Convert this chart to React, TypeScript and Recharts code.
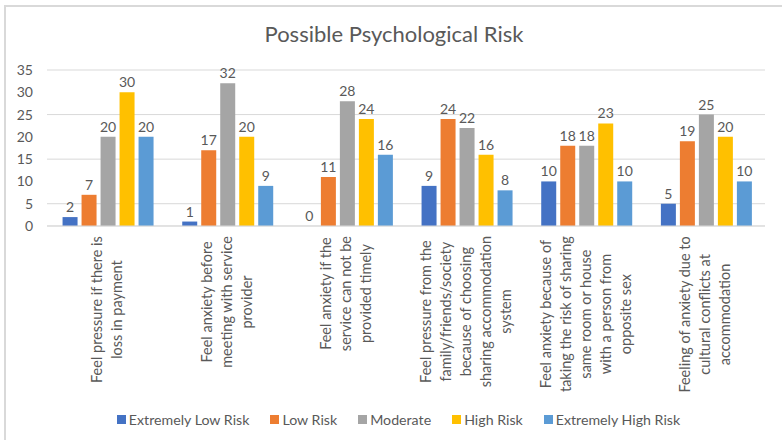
import React from "react";
import { Bar, BarChart, CartesianGrid, LabelList, Legend, XAxis, YAxis } from "recharts";

const CATEGORY_LINES: string[][] = [
  ["Feel pressure if there is", "loss in payment"],
  ["Feel anxiety before", "meeting with service", "provider"],
  ["Feel anxiety if the", "service can not be", "provided timely"],
  ["Feel pressure from the", "family/friends/society", "because of choosing", "sharing accommodation", "system"],
  ["Feel anxiety because of", "taking the risk of sharing", "same room or house", "with a person from", "opposite sex"],
  ["Feeling of anxiety due to", "cultural conflicts at", "accommodation"],
];
const CATEGORIES = CATEGORY_LINES.map((l) => l.join(" "));

const EXTREMELY_LOW = [2, 1, 0, 9, 10, 5];
const LOW = [7, 17, 11, 24, 18, 19];
const MODERATE = [20, 32, 28, 22, 18, 25];
const HIGH = [30, 20, 24, 16, 23, 20];
const EXTREMELY_HIGH = [20, 9, 16, 8, 10, 10];

const Y_TICKS = [0, 5, 10, 15, 20, 25, 30, 35];

const SERIES = [
  { key: "extremelyLow", name: "Extremely Low Risk", color: "#4472C4", values: EXTREMELY_LOW },
  { key: "low", name: "Low Risk", color: "#ED7D31", values: LOW },
  { key: "moderate", name: "Moderate", color: "#A5A5A5", values: MODERATE },
  { key: "high", name: "High Risk", color: "#FFC000", values: HIGH },
  { key: "extremelyHigh", name: "Extremely High Risk", color: "#5B9BD5", values: EXTREMELY_HIGH },
];

const data = CATEGORIES.map((name, i) => {
  const row: Record<string, string | number> = { name };
  SERIES.forEach((s) => (row[s.key] = s.values[i]));
  return row;
});

const FONT = "Lato, 'Noto Sans', sans-serif";
const TEXT = "#595959";

let ctx: CanvasRenderingContext2D | null = null;
function measure(text: string, size: number) {
  if (!ctx) ctx = document.createElement("canvas").getContext("2d");
  if (!ctx) return text.length * size * 0.48;
  ctx.font = `${size}px Lato`;
  return ctx.measureText(text).width;
}

function CategoryTick({ x, y, payload }: any) {
  const lines = CATEGORY_LINES[payload.index] ?? [];
  const size = 14.5;
  const maxW = Math.max(...lines.map((l) => measure(l, size)));
  const lh = 20;
  const x0 = x - ((lines.length - 1) * lh) / 2;
  return (
    <g>
      {lines.map((l, i) => (
        <text
          key={i}
          transform={`translate(${x0 + i * lh + 5},${y + 2 + maxW / 2}) rotate(-90)`}
          textAnchor="middle"
          fontSize={size}
          fontFamily={FONT}
          fill={TEXT}
        >
          {l}
        </text>
      ))}
    </g>
  );
}

function LegendContent() {
  return (
    <div
      style={{
        display: "flex",
        justifyContent: "center",
        gap: 21,
        paddingLeft: 32,
        fontFamily: FONT,
        fontSize: 14.2,
        color: TEXT,
      }}
    >
      {SERIES.map((s) => (
        <div key={s.key} style={{ display: "flex", alignItems: "center", gap: 3 }}>
          <span style={{ width: 9, height: 9, background: s.color, display: "inline-block" }} />
          <span>{s.name}</span>
        </div>
      ))}
    </div>
  );
}

export default function App() {
  return (
    <div style={{ position: "absolute", left: 0, top: 0, width: 782, height: 440, background: "#fff" }}>
      <div style={{ position: "absolute", left: 4, top: 5, width: 778, height: 2, background: "#d9d9d9" }} />
      <div style={{ position: "absolute", left: 4, top: 5, width: 2, height: 435, background: "#d9d9d9" }} />
      <div
        style={{
          position: "absolute",
          left: 0,
          top: 21,
          width: 788,
          textAlign: "center",
          fontFamily: FONT,
          fontSize: 22,
          color: TEXT,
          lineHeight: "26px",
        }}
      >
        Possible Psychological Risk
      </div>
      <BarChart
        width={782}
        height={440}
        data={data}
        margin={{ top: 70, right: 17, left: 0, bottom: 12 }}
        barCategoryGap="13%"
        barGap={4}
      >
        <CartesianGrid horizontal vertical={false} stroke="#d9d9d9" />
        <XAxis
          dataKey="name"
          interval={0}
          height={185}
          tick={<CategoryTick />}
          tickLine={false}
          axisLine={{ stroke: "#d9d9d9" }}
        />
        <YAxis
          width={47}
          domain={[0, 35]}
          ticks={Y_TICKS}
          axisLine={false}
          tickLine={false}
          tickMargin={8}
          tick={{ fontSize: 14, fill: TEXT, fontFamily: FONT }}
        />
        <Legend verticalAlign="bottom" content={<LegendContent />} />
        {SERIES.map((s) => (
          <Bar
            key={s.key}
            dataKey={s.key}
            name={s.name}
            fill={s.color}
            minPointSize={0.01}
            isAnimationActive={false}
          >
            <LabelList dataKey={s.key} position="top" fontSize={14} fill={TEXT} fontFamily={FONT} />
          </Bar>
        ))}
      </BarChart>
    </div>
  );
}
